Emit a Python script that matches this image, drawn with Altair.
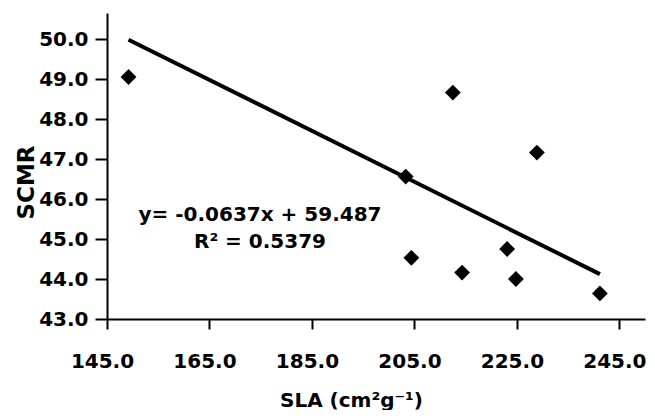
import altair as alt
import pandas as pd

# Data
sla = [149.2, 212.5, 228.9, 203.3, 204.4, 214.3, 223.1, 224.8, 241.2]
scmr = [49.05, 48.66, 47.16, 46.56, 44.53, 44.16, 44.75, 44.00, 43.64]
slope = -0.0637
intercept = 59.487
x_ticks = [145, 165, 185, 205, 225, 245]
y_ticks = [43, 44, 45, 46, 47, 48, 49, 50]
eq_lines = ["y= -0.0637x + 59.487", "R\u00b2 = 0.5379"]

pts = pd.DataFrame({"SLA": sla, "SCMR": scmr})
xmin, xmax = min(sla), max(sla)
trend = pd.DataFrame({"SLA": [xmin, xmax],
                      "SCMR": [slope * xmin + intercept, slope * xmax + intercept]})

FONT = "DejaVu Sans"

xscale = alt.Scale(domain=[145, 250], nice=False, zero=False)
yscale = alt.Scale(domain=[43, 50.65], nice=False, zero=False)

xaxis = alt.Axis(values=x_ticks, format=".1f", title="SLA (cm\u00b2g\u207b\u00b9)", grid=False,
                 tickSize=10, labelPadding=22, labelFlush=False, labelOverlap=False,
                 labelBound=False, labelOffset=-5, titleX=244, titleY=87,
                 titleBaseline="alphabetic", titleAlign="center")
yaxis = alt.Axis(values=y_ticks, format=".1f", title="SCMR", grid=False,
                 tickSize=12, labelPadding=7, labelFlush=False, labelOverlap=False,
                 titleAngle=270, titleX=-74, titleY=169,
                 titleBaseline="alphabetic", titleAlign="center", titleFontSize=23)

points = alt.Chart(pts).mark_point(shape="diamond", filled=True, color="black",
                                   size=250, opacity=1).encode(
    x=alt.X("SLA:Q", scale=xscale, axis=xaxis),
    y=alt.Y("SCMR:Q", scale=yscale, axis=yaxis),
)

line = alt.Chart(trend).mark_line(color="black", strokeWidth=4).encode(
    x=alt.X("SLA:Q", scale=xscale),
    y=alt.Y("SCMR:Q", scale=yscale),
)

label = alt.Chart(pd.DataFrame({"a": [0]})).mark_text(
    text=eq_lines, font=FONT, fontWeight="bold", fontSize=20, color="black",
    align="center", baseline="alphabetic", lineHeight=27,
).encode(x=alt.value(153), y=alt.value(208))

chart = alt.layer(line, points, label).properties(
    width=538, height=306,
    autosize=alt.AutoSizeParams(type="none"),
    padding={"left": 99, "top": 5, "right": 2, "bottom": 91},
).configure_view(stroke=None).configure_axis(
    domainColor="black", domainWidth=2, tickColor="black", tickWidth=2,
    labelFont=FONT, labelFontWeight="bold", labelFontSize=20, labelColor="black",
    titleFont=FONT, titleFontWeight="bold", titleFontSize=20, titleColor="black",
)

chart.save("out.html", embed_options={"renderer": "svg", "actions": False})
